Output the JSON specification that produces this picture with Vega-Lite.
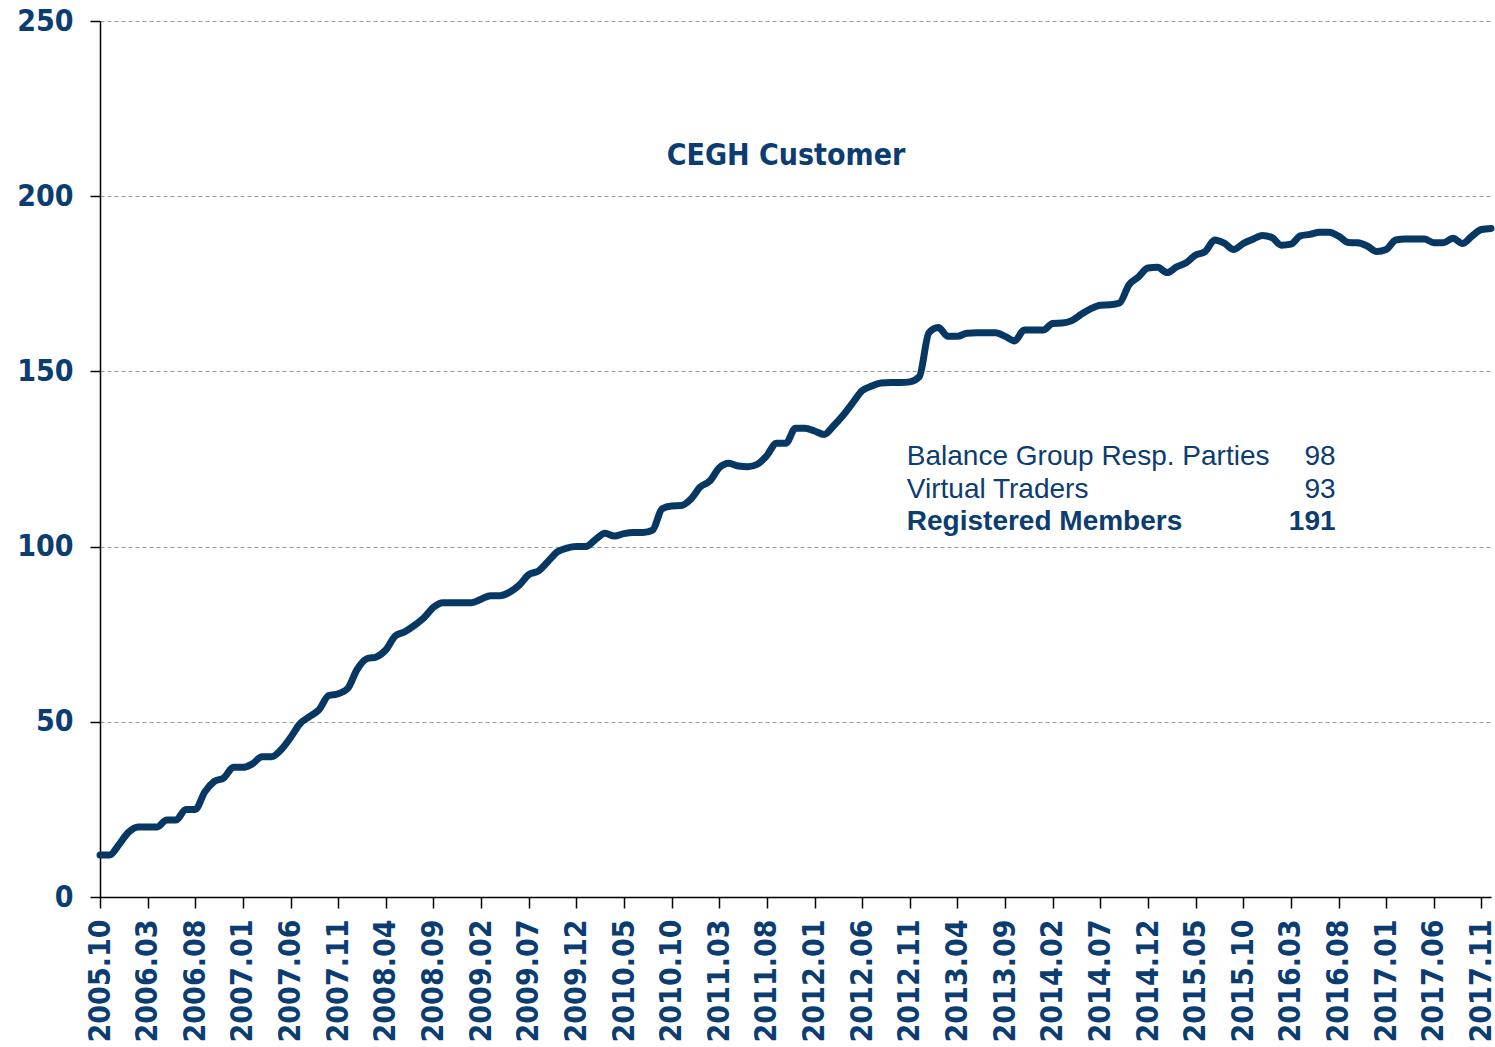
{
  "$schema": "https://vega.github.io/schema/vega-lite/v6.json",
  "width": 1391,
  "height": 876,
  "autosize": {"type": "none"},
  "padding": {"left": 100, "top": 21, "right": 4, "bottom": 150},
  "background": "white",
  "config": {"view": {"stroke": null}},
  "datasets": {
    "series": [
      {"m":"2005.10","v":12},{"m":"2005.11","v":12},{"m":"2005.12","v":15},
      {"m":"2006.01","v":18.5},{"m":"2006.02","v":20},{"m":"2006.03","v":20},{"m":"2006.04","v":20},{"m":"2006.05","v":22},{"m":"2006.06","v":22},{"m":"2006.07","v":25},{"m":"2006.08","v":25},{"m":"2006.09","v":30},{"m":"2006.10","v":33},{"m":"2006.11","v":34},{"m":"2006.12","v":37},
      {"m":"2007.01","v":37},{"m":"2007.02","v":38},{"m":"2007.03","v":40},{"m":"2007.04","v":40},{"m":"2007.05","v":42},{"m":"2007.06","v":45.5},{"m":"2007.07","v":49.5},{"m":"2007.08","v":51.5},{"m":"2007.09","v":53.5},{"m":"2007.10","v":57.5},{"m":"2007.11","v":58},{"m":"2007.12","v":59.5},
      {"m":"2008.01","v":65},{"m":"2008.02","v":68},{"m":"2008.03","v":68.5},{"m":"2008.04","v":70.5},{"m":"2008.05","v":74.5},{"m":"2008.06","v":75.7},{"m":"2008.07","v":77.5},{"m":"2008.08","v":79.7},{"m":"2008.09","v":82.7},{"m":"2008.10","v":84},{"m":"2008.11","v":84},{"m":"2008.12","v":84},
      {"m":"2009.01","v":84},{"m":"2009.02","v":85},{"m":"2009.03","v":86},{"m":"2009.04","v":86},{"m":"2009.05","v":87},{"m":"2009.06","v":89},{"m":"2009.07","v":92},{"m":"2009.08","v":93},{"m":"2009.09","v":95.7},{"m":"2009.10","v":98.5},{"m":"2009.11","v":99.6},{"m":"2009.12","v":100},
      {"m":"2010.01","v":100},{"m":"2010.02","v":102},{"m":"2010.03","v":103.8},{"m":"2010.04","v":103},{"m":"2010.05","v":103.7},{"m":"2010.06","v":104},{"m":"2010.07","v":104},{"m":"2010.08","v":104.7},{"m":"2010.09","v":110.8},{"m":"2010.10","v":111.6},{"m":"2010.11","v":111.7},{"m":"2010.12","v":113.5},
      {"m":"2011.01","v":117},{"m":"2011.02","v":118.7},{"m":"2011.03","v":122.5},{"m":"2011.04","v":123.8},{"m":"2011.05","v":123},{"m":"2011.06","v":122.8},{"m":"2011.07","v":123.5},{"m":"2011.08","v":126},{"m":"2011.09","v":129.5},{"m":"2011.10","v":129.5},{"m":"2011.11","v":133.8},{"m":"2011.12","v":133.8},
      {"m":"2012.01","v":133},{"m":"2012.02","v":132},{"m":"2012.03","v":134.5},{"m":"2012.04","v":137.5},{"m":"2012.05","v":141},{"m":"2012.06","v":144.5},{"m":"2012.07","v":145.8},{"m":"2012.08","v":146.7},{"m":"2012.09","v":146.8},{"m":"2012.10","v":146.8},{"m":"2012.11","v":147},{"m":"2012.12","v":148.5},
      {"m":"2013.01","v":161},{"m":"2013.02","v":162.5},{"m":"2013.03","v":160},{"m":"2013.04","v":160},{"m":"2013.05","v":160.9},{"m":"2013.06","v":161},{"m":"2013.07","v":161},{"m":"2013.08","v":161},{"m":"2013.09","v":160},{"m":"2013.10","v":158.7},{"m":"2013.11","v":161.8},{"m":"2013.12","v":161.8},
      {"m":"2014.01","v":161.8},{"m":"2014.02","v":163.7},{"m":"2014.03","v":163.8},{"m":"2014.04","v":164.5},{"m":"2014.05","v":166.3},{"m":"2014.06","v":167.9},{"m":"2014.07","v":168.9},{"m":"2014.08","v":169},{"m":"2014.09","v":169.5},{"m":"2014.10","v":174.7},{"m":"2014.11","v":177},{"m":"2014.12","v":179.5},
      {"m":"2015.01","v":179.7},{"m":"2015.02","v":178.2},{"m":"2015.03","v":179.8},{"m":"2015.04","v":181},{"m":"2015.05","v":183.2},{"m":"2015.06","v":184.2},{"m":"2015.07","v":187.5},{"m":"2015.08","v":186.6},{"m":"2015.09","v":184.8},{"m":"2015.10","v":186.5},{"m":"2015.11","v":187.7},{"m":"2015.12","v":188.8},
      {"m":"2016.01","v":188.2},{"m":"2016.02","v":186},{"m":"2016.03","v":186.3},{"m":"2016.04","v":188.7},{"m":"2016.05","v":189.1},{"m":"2016.06","v":189.7},{"m":"2016.07","v":189.7},{"m":"2016.08","v":188.6},{"m":"2016.09","v":186.8},{"m":"2016.10","v":186.7},{"m":"2016.11","v":185.8},{"m":"2016.12","v":184.2},
      {"m":"2017.01","v":184.8},{"m":"2017.02","v":187.5},{"m":"2017.03","v":187.8},{"m":"2017.04","v":187.8},{"m":"2017.05","v":187.8},{"m":"2017.06","v":186.7},{"m":"2017.07","v":186.7},{"m":"2017.08","v":188},{"m":"2017.09","v":186.5},{"m":"2017.10","v":188.6},{"m":"2017.11","v":190.5},{"m":"2017.12","v":190.8}
    ],
    "notes": [
      {"m":"2011.10","v":208.9,"t":"CEGH Customer","k":"title"},
      {"m":"2012.11","v":123.3,"t":"Balance Group Resp. Parties","k":"label"},
      {"m":"2012.11","v":113.8,"t":"Virtual Traders","k":"label"},
      {"m":"2012.11","v":104.6,"t":"Registered Members","k":"labelB"},
      {"m":"2016.08","v":123.3,"t":"98","k":"num"},
      {"m":"2016.08","v":113.8,"t":"93","k":"num"},
      {"m":"2016.08","v":104.6,"t":"191","k":"numB"}
    ]
  },
  "encoding": {
    "x": {
      "field": "m", "type": "ordinal",
      "scale": {"type": "point", "padding": 0},
      "axis": {
        "title": null,
        "values": ["2005.10","2006.03","2006.08","2007.01","2007.06","2007.11","2008.04","2008.09","2009.02","2009.07","2009.12","2010.05","2010.10","2011.03","2011.08","2012.01","2012.06","2012.11","2013.04","2013.09","2014.02","2014.07","2014.12","2015.05","2015.10","2016.03","2016.08","2017.01","2017.06","2017.11"],
        "labelAngle": -90,
        "labelAlign": "right",
        "labelBaseline": "middle",
        "labelFont": "DejaVu Sans Condensed, DejaVu Sans",
        "labelFontWeight": "bold",
        "labelFontSize": 30,
        "labelColor": "#0b3c72",
        "labelPadding": 11,
        "labelOverlap": false,
        "tickColor": "#000000",
        "tickSize": 11,
        "tickWidth": 1.5,
        "domainColor": "#000000",
        "domainWidth": 1.5,
        "grid": false
      }
    },
    "y": {
      "field": "v", "type": "quantitative",
      "scale": {"domain": [0, 250], "nice": false, "zero": true},
      "axis": {
        "title": null,
        "values": [0, 50, 100, 150, 200, 250],
        "labelFont": "DejaVu Sans Condensed, DejaVu Sans",
        "labelFontWeight": "bold",
        "labelFontSize": 30,
        "labelColor": "#0b3c72",
        "labelPadding": 17,
        "tickColor": "#000000",
        "tickSize": 10,
        "tickWidth": 1.5,
        "domainColor": "#000000",
        "domainWidth": 1.5,
        "grid": true,
        "gridColor": "#9a9a9a",
        "gridDash": [4, 3],
        "gridWidth": 1
      }
    }
  },
  "layer": [
    {
      "data": {"name": "series"},
      "mark": {"type": "line", "color": "#073763", "strokeWidth": 7, "interpolate": "monotone", "strokeCap": "round", "strokeJoin": "round"}
    },
    {
      "data": {"name": "notes"},
      "transform": [{"filter": "datum.k == 'title'"}],
      "mark": {"type": "text", "align": "center", "baseline": "alphabetic", "font": "DejaVu Sans Condensed, DejaVu Sans", "fontWeight": "bold", "fontSize": 30, "color": "#0b3c72"},
      "encoding": {"text": {"field": "t"}}
    },
    {
      "data": {"name": "notes"},
      "transform": [{"filter": "datum.k == 'label'"}],
      "mark": {"type": "text", "align": "left", "baseline": "alphabetic", "dx": -3, "font": "Liberation Sans", "fontSize": 28, "color": "#0b3c72"},
      "encoding": {"text": {"field": "t"}}
    },
    {
      "data": {"name": "notes"},
      "transform": [{"filter": "datum.k == 'labelB'"}],
      "mark": {"type": "text", "align": "left", "baseline": "alphabetic", "dx": -3, "font": "Liberation Sans", "fontWeight": "bold", "fontSize": 28, "color": "#0b3c72"},
      "encoding": {"text": {"field": "t"}}
    },
    {
      "data": {"name": "notes"},
      "transform": [{"filter": "datum.k == 'num'"}],
      "mark": {"type": "text", "align": "right", "baseline": "alphabetic", "dx": -3, "font": "Liberation Sans", "fontSize": 28, "color": "#0b3c72"},
      "encoding": {"text": {"field": "t"}}
    },
    {
      "data": {"name": "notes"},
      "transform": [{"filter": "datum.k == 'numB'"}],
      "mark": {"type": "text", "align": "right", "baseline": "alphabetic", "dx": -3, "font": "Liberation Sans", "fontWeight": "bold", "fontSize": 28, "color": "#0b3c72"},
      "encoding": {"text": {"field": "t"}}
    }
  ]
}
